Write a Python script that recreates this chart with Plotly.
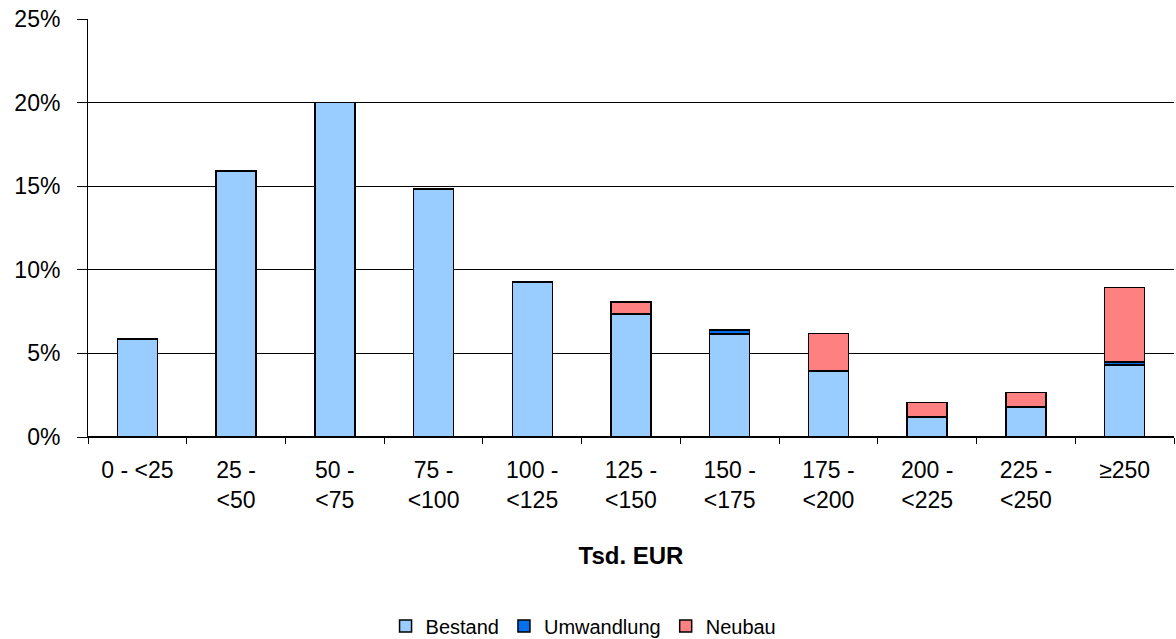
import plotly.graph_objects as go

categories = ["0 - <25", "25 - <50", "50 - <75", "75 - <100", "100 - <125", "125 - <150",
              "150 - <175", "175 - <200", "200 - <225", "225 - <250", "≥250"]
tick_labels = ["0 - &lt;25", "25 -<br>&lt;50", "50 -<br>&lt;75", "75 -<br>&lt;100", "100 -<br>&lt;125",
               "125 -<br>&lt;150", "150 -<br>&lt;175", "175 -<br>&lt;200", "200 -<br>&lt;225",
               "225 -<br>&lt;250", "≥250"]
bestand = [5.86, 15.9, 20.0, 14.83, 9.27, 7.36, 6.16, 3.95, 1.21, 1.78, 4.3]
umwandlung = [0, 0, 0, 0, 0, 0, 0.25, 0, 0, 0, 0.2]
neubau = [0, 0, 0, 0, 0, 0.71, 0, 2.25, 0.84, 0.87, 4.45]

series = [("Bestand", bestand, "#99CCFF"), ("Umwandlung", umwandlung, "#0070F0"), ("Neubau", neubau, "#FF8080")]

fig = go.Figure()
for name, vals, col in series:
    fig.add_trace(go.Bar(x=categories, y=vals, name=name,
                         marker=dict(color=col, line=dict(color="#000000", width=1.5))))

font = "Liberation Sans, Arial, sans-serif"
fig.update_layout(
    barmode="stack",
    bargap=0.595,
    width=1176, height=647,
    margin=dict(l=88, r=2, t=19, b=204),
    plot_bgcolor="white", paper_bgcolor="white",
    font=dict(family=font, size=22, color="#000000"),
    showlegend=True,
    legend=dict(orientation="h", x=0.274, xanchor="left", y=-0.452, yanchor="middle",
                font=dict(size=20), itemwidth=30, traceorder="normal"),
)
fig.update_xaxes(
    tickmode="array", tickvals=categories, ticktext=tick_labels,
    showline=True, linecolor="#000000", linewidth=1,
    ticks="outside", ticklen=6, tickcolor="#000000", tickson="boundaries",
    ticklabelstandoff=12, automargin=False,
    title=dict(text="<b>Tsd. EUR</b>", font=dict(size=24), standoff=35),
    tickfont=dict(size=23),
)
fig.update_yaxes(
    range=[0, 25], tick0=0, dtick=5, ticksuffix="%",
    showline=True, linecolor="#000000", linewidth=1,
    ticks="outside", ticklen=10, tickcolor="#000000",
    ticklabelstandoff=12, automargin=False,
    showgrid=True, gridcolor="#000000", gridwidth=1,
    zeroline=True, zerolinecolor="#000000",
    tickfont=dict(size=23),
)
fig.write_html(
    "out.html",
    config={"displayModeBar": False},
    post_script=(
        "var d=document.documentElement,b=document.body;"
        "d.style.margin='0';d.style.padding='0';d.style.overflow='hidden';"
        "b.style.margin='0';b.style.padding='0';b.style.overflow='hidden';"
    ),
)
